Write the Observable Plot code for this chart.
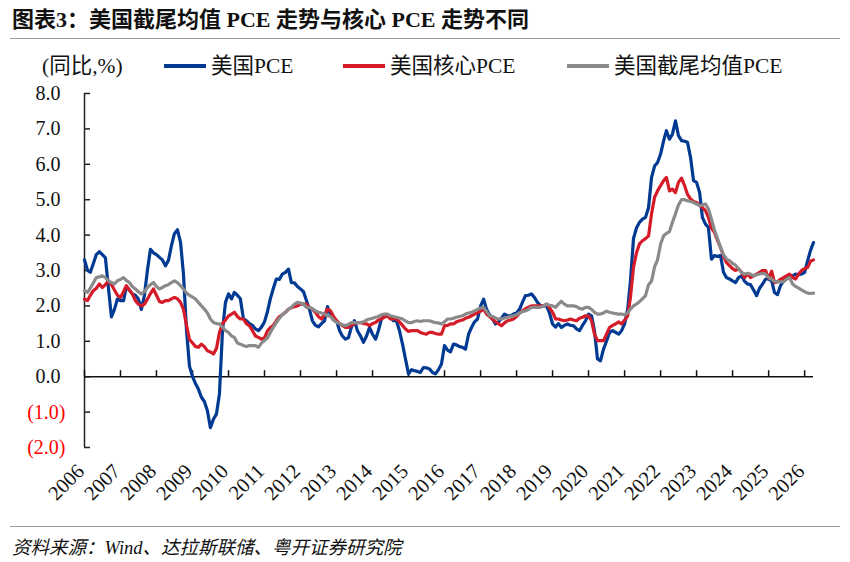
<!DOCTYPE html>
<html><head><meta charset="utf-8">
<script src="https://cdn.jsdelivr.net/npm/d3@7"></script>
<script src="https://cdn.jsdelivr.net/npm/@observablehq/plot@0.6"></script>
<style>
html,body{margin:0;padding:0;background:#fff;width:850px;height:562px;overflow:hidden;position:relative}
#title{position:absolute;left:12px;top:7px;font:bold 22px "Liberation Serif","Noto Sans CJK SC";color:#111;white-space:nowrap;line-height:26px}
#rule1{position:absolute;left:10px;right:10px;top:38px;border-top:1.5px solid #9a9a9a}
#legend{position:absolute;left:0;top:51px;height:30px;width:850px;font:21.5px "Liberation Serif","Noto Sans CJK SC";color:#111}
.lg{position:absolute;top:0;white-space:nowrap;line-height:30px}
.sw{position:absolute;top:13px;height:3.5px;width:42px}
#chart{position:absolute;left:0;top:80px}
#rule2{position:absolute;left:10px;right:10px;top:526px;border-top:1.5px solid #9a9a9a}
#source{position:absolute;left:12px;top:533px;font:italic 18.5px "Liberation Serif","Noto Sans CJK SC";color:#111;white-space:nowrap}
</style></head>
<body>
<div id="title">图表3：美国截尾均值 PCE 走势与核心 PCE 走势不同</div>
<div id="rule1"></div>
<div id="legend"></div>
<div id="chart"></div>
<div id="rule2"></div>
<div id="source">资料来源：Wind、达拉斯联储、粤开证券研究院</div>
<script>
// ---- data (monthly, starting Jan 2006) ----
const startYear = 2006;
const seriesNames = ["美国PCE", "美国核心PCE", "美国截尾均值PCE"];
const seriesColors = ["#003a93", "#d51a28", "#8a8a8a"];
const unitLabel = "(同比,%)";
const yTicks = [-2, -1, 0, 1, 2, 3, 4, 5, 6, 7, 8];
const xTickYears = d3.range(2006, 2027);

const pce = [
3.3,3.0,2.95,3.2,3.45,3.53,3.45,3.36,2.5,1.69,1.9,2.2,
2.15,2.15,2.54,2.45,2.34,2.3,2.2,1.9,2.3,3.0,3.6,3.5,
3.45,3.37,3.3,3.13,3.28,3.7,4.04,4.15,3.8,2.9,1.3,0.3,
0.0,-0.2,-0.35,-0.58,-0.7,-0.96,-1.44,-1.2,-1.05,-0.48,1.3,2.1,
2.34,2.2,2.38,2.3,2.2,1.64,1.58,1.5,1.45,1.35,1.3,1.4,
1.55,1.85,2.2,2.5,2.76,2.75,2.9,2.95,3.04,2.66,2.65,2.55,
2.48,2.4,2.15,1.9,1.58,1.45,1.41,1.5,1.58,1.98,1.75,1.6,
1.58,1.3,1.15,1.06,1.1,1.4,1.58,1.3,1.15,0.97,1.15,1.39,
1.2,1.06,1.3,1.63,1.72,1.72,1.7,1.58,1.58,1.3,0.92,0.5,
0.08,0.2,0.17,0.15,0.12,0.26,0.25,0.22,0.12,0.08,0.2,0.36,
0.88,0.75,0.7,0.92,0.9,0.85,0.83,0.78,1.2,1.39,1.55,1.63,
2.0,2.19,1.91,1.75,1.63,1.49,1.55,1.65,1.77,1.72,1.72,1.77,
1.8,1.91,2.1,2.29,2.3,2.34,2.24,2.1,2.0,2.0,2.0,1.8,
1.49,1.4,1.5,1.39,1.45,1.49,1.45,1.44,1.35,1.3,1.45,1.58,
1.77,1.72,1.3,0.5,0.45,0.78,1.0,1.25,1.3,1.25,1.2,1.3,
1.49,1.9,2.7,3.9,4.2,4.36,4.45,4.5,4.78,5.63,5.95,6.05,
6.29,6.67,6.95,6.71,6.85,7.23,6.81,6.67,6.65,6.62,6.19,5.54,
5.49,5.2,4.5,4.31,4.22,3.32,3.42,3.4,3.42,2.95,2.8,2.76,
2.71,2.66,2.8,2.85,2.7,2.62,2.6,2.45,2.29,2.5,2.62,2.76,
2.76,2.71,2.38,2.32,2.57,2.7,2.8,2.85,2.85,2.9,2.88,2.9,
2.95,3.28,3.56,3.79];

const corePce = [
2.19,2.15,2.3,2.43,2.5,2.62,2.52,2.6,2.71,2.6,2.45,2.3,
2.24,2.4,2.57,2.45,2.34,2.15,2.05,2.0,2.05,2.19,2.35,2.48,
2.3,2.12,2.1,2.15,2.15,2.2,2.24,2.2,2.1,1.9,1.45,1.05,
0.95,0.85,0.83,0.92,0.85,0.73,0.7,0.64,0.8,1.25,1.5,1.6,
1.72,1.77,1.82,1.7,1.63,1.63,1.5,1.44,1.3,1.15,1.11,1.06,
1.1,1.3,1.39,1.45,1.58,1.7,1.75,1.82,1.91,1.95,1.98,2.0,
2.05,2.05,2.05,1.95,1.91,1.82,1.7,1.63,1.75,1.91,1.86,1.7,
1.58,1.5,1.45,1.39,1.39,1.45,1.5,1.53,1.53,1.5,1.49,1.44,
1.5,1.53,1.6,1.63,1.68,1.72,1.63,1.63,1.63,1.55,1.45,1.35,
1.28,1.3,1.3,1.3,1.25,1.22,1.2,1.25,1.25,1.22,1.2,1.2,
1.44,1.45,1.49,1.49,1.55,1.58,1.6,1.65,1.68,1.72,1.77,1.8,
1.85,1.91,1.77,1.7,1.63,1.55,1.5,1.44,1.52,1.58,1.6,1.63,
1.7,1.8,1.86,1.92,1.96,2.0,2.0,2.0,2.0,2.0,2.05,1.95,
1.82,1.63,1.63,1.6,1.58,1.6,1.63,1.6,1.58,1.65,1.68,1.72,
1.72,1.58,1.2,1.02,1.02,1.02,1.2,1.39,1.45,1.49,1.55,1.49,
1.6,1.72,2.24,3.09,3.5,3.75,3.84,3.9,3.98,4.6,5.07,5.25,
5.4,5.54,5.63,5.25,5.3,5.2,5.49,5.61,5.4,5.15,5.02,4.95,
4.92,4.85,4.78,4.69,4.5,4.2,4.08,3.85,3.65,3.4,3.22,3.14,
3.05,3.0,3.05,2.95,2.8,2.9,2.8,2.85,2.9,2.95,3.0,3.0,
2.78,2.98,2.66,2.68,2.75,2.8,2.85,2.9,2.8,2.76,2.9,3.0,
3.05,3.09,3.26,3.3];

const trimmedMeanPce = [
2.43,2.38,2.5,2.65,2.8,2.82,2.85,2.8,2.71,2.66,2.62,2.71,
2.75,2.8,2.72,2.66,2.55,2.48,2.4,2.34,2.4,2.52,2.6,2.66,
2.55,2.48,2.52,2.57,2.6,2.66,2.71,2.66,2.57,2.48,2.36,2.3,
2.25,2.19,2.1,2.0,1.91,1.8,1.63,1.53,1.5,1.49,1.4,1.3,
1.25,1.15,1.11,0.95,0.92,0.88,0.85,0.88,0.88,0.88,0.83,0.95,
1.02,1.1,1.25,1.4,1.53,1.65,1.75,1.82,1.9,1.96,2.05,2.1,
2.08,2.05,1.96,1.96,1.92,1.86,1.82,1.8,1.77,1.72,1.7,1.6,
1.53,1.5,1.47,1.44,1.48,1.53,1.53,1.53,1.53,1.55,1.6,1.63,
1.65,1.68,1.7,1.75,1.77,1.77,1.72,1.7,1.68,1.66,1.63,1.58,
1.53,1.53,1.56,1.58,1.56,1.58,1.58,1.58,1.55,1.53,1.52,1.49,
1.55,1.63,1.63,1.65,1.68,1.7,1.72,1.77,1.8,1.82,1.86,1.9,
1.94,1.96,1.85,1.72,1.7,1.66,1.63,1.63,1.66,1.68,1.7,1.72,
1.75,1.8,1.84,1.86,1.9,1.96,1.96,1.96,1.96,2.0,2.05,2.02,
2.0,1.96,2.05,2.13,2.05,2.0,2.0,2.0,1.98,1.93,1.91,1.96,
1.96,1.9,1.82,1.77,1.77,1.8,1.85,1.82,1.8,1.78,1.77,1.77,
1.75,1.8,1.91,2.0,2.05,2.12,2.2,2.29,2.6,2.7,3.1,3.3,
3.75,3.98,4.05,4.1,4.36,4.6,4.85,5.0,5.0,4.97,4.95,4.92,
4.88,4.83,4.85,4.88,4.74,4.45,4.15,3.9,3.65,3.45,3.32,3.28,
3.2,3.15,3.05,2.95,2.9,2.92,2.9,2.85,2.88,2.9,2.92,2.9,
2.8,2.75,2.7,2.68,2.68,2.68,2.75,2.8,2.62,2.55,2.5,2.45,
2.4,2.36,2.35,2.36];

// ---- build table ----
const seriesValues = [pce, corePce, trimmedMeanPce];
const monthDate = i => new Date(Date.UTC(startYear, i, 1));
const rows = seriesNames.flatMap((name, s) =>
  seriesValues[s].map((v, i) => ({date: monthDate(i), value: v, series: name})));
const firstDate = monthDate(0);
const lastDate = monthDate(pce.length - 1);
const xTickDates = xTickYears.map(y => new Date(Date.UTC(y, 0, 1)));
const fmt = d => d < 0 ? `(${Math.abs(d).toFixed(1)})` : d.toFixed(1);

// ---- legend ----
const legend = document.getElementById("legend");
const legendPos = [[164, 211], [343, 390], [567, 614]];
{
  const u = document.createElement("div");
  u.className = "lg"; u.style.left = "42px"; u.textContent = unitLabel;
  legend.appendChild(u);
}
seriesNames.forEach((name, i) => {
  const sw = document.createElement("div");
  sw.className = "sw"; sw.style.left = legendPos[i][0] + "px"; sw.style.background = seriesColors[i];
  legend.appendChild(sw);
  const t = document.createElement("div");
  t.className = "lg"; t.style.left = legendPos[i][1] + "px"; t.textContent = name;
  legend.appendChild(t);
});

// ---- chart ----
const chart = Plot.plot({
  width: 850,
  height: 440,
  marginTop: 13,
  marginBottom: 73,
  marginLeft: 84,
  marginRight: 37,
  style: {fontFamily: "'Liberation Serif', serif", fontSize: "20px", background: "transparent", overflow: "visible", color: "#111"},
  x: {type: "utc", domain: [firstDate, lastDate], axis: null},
  y: {domain: [-2, 8], axis: null},
  color: {domain: seriesNames, range: seriesColors},
  marks: [
    Plot.ruleX([firstDate], {stroke: "#222", strokeWidth: 1.5}),
    Plot.ruleY(yTicks, {y: d => d, x1: firstDate, x2: firstDate, insetRight: -6, stroke: "#222", strokeWidth: 1.5}),
    Plot.ruleY([0], {stroke: "#111", strokeWidth: 1.5}),
    Plot.ruleX(xTickDates, {x: d => d, y1: 0, y2: 0, insetTop: -6, stroke: "#111", strokeWidth: 1.5}),
    Plot.line(rows, {x: "date", y: "value", z: "series", stroke: "series", strokeWidth: 3.2, strokeLinejoin: "round", strokeLinecap: "round"}),
    Plot.text(yTicks.filter(d => d >= 0), {y: d => d, frameAnchor: "left", dx: -24, textAnchor: "end", text: fmt, fill: "#111"}),
    Plot.text(yTicks.filter(d => d < 0), {y: d => d, frameAnchor: "left", dx: -19, textAnchor: "end", text: fmt, fill: "#ff0000"}),
    Plot.text(xTickDates, {x: d => d, frameAnchor: "bottom", text: d => String(d.getUTCFullYear()), rotate: -45, textAnchor: "end", dx: 1, dy: 25, fontSize: 20.5, fill: "#111"})
  ]
});
document.getElementById("chart").appendChild(chart);
</script>
</body></html>
